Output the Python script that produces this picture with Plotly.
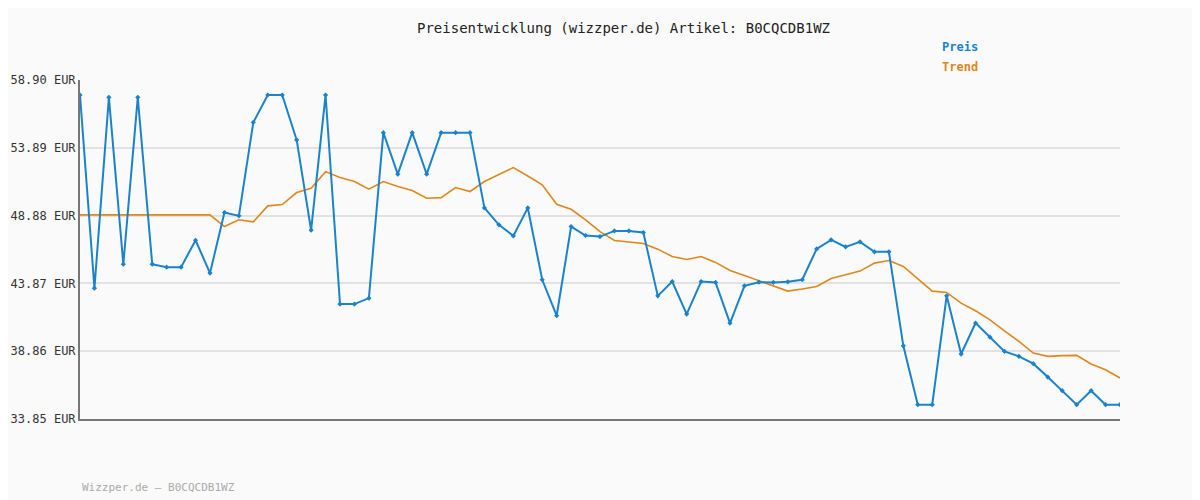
import plotly.graph_objects as go

idx = list(range(73))
preis = [57.79,43.52,57.62,45.29,57.62,45.29,45.07,45.07,47.06,44.63,
         49.11,48.86,55.77,57.79,57.79,54.47,47.80,57.79,42.34,42.34,
         42.78,55.01,51.94,55.01,51.94,55.01,55.01,55.01,49.45,48.20,
         47.38,49.45,44.14,41.48,48.07,47.41,47.33,47.75,47.75,47.63,
         42.95,44.01,41.60,44.01,43.94,40.94,43.69,43.96,43.94,43.99,
         44.14,46.42,47.09,46.57,46.94,46.20,46.20,39.26,34.91,34.91,
         42.95,38.65,40.94,39.90,38.85,38.48,37.94,36.95,35.94,34.91,
         35.94,34.91,34.91]
trend = [48.93]*10 + [48.07,48.57,48.42,49.60,49.70,50.58,50.90,52.13,51.69,51.40,
         50.83,51.40,51.03,50.73,50.16,50.21,50.95,50.66,51.40,51.89,
         52.43,51.81,51.15,49.72,49.35,48.57,47.70,47.04,46.92,46.82,
         46.40,45.86,45.64,45.86,45.42,44.83,44.46,44.06,43.69,43.30,
         43.45,43.64,44.23,44.48,44.78,45.37,45.56,45.12,44.21,43.30,
         43.20,42.41,41.85,41.18,40.37,39.58,38.72,38.48,38.53,38.55,
         37.91,37.49,36.88]
yticks = [33.85,38.86,43.87,48.88,53.89,58.90]
blue = "#1b82cc"; orange = "#e0871c"
font = "DejaVu Sans Mono"

W, H, L, R, T, B = 1200, 500, 72, 88, 72, 89
OFF = 8

fig = go.Figure()
fig.add_trace(go.Scatter(x=idx, y=trend, mode="lines", line=dict(color=orange, width=1.6), name="Trend"))
fig.add_trace(go.Scatter(x=idx, y=preis, mode="lines+markers", line=dict(color=blue, width=2),
                         marker=dict(symbol="diamond", size=4, color=blue), name="Preis"))

def px(x, y):
    x -= OFF; y -= OFF
    return (x - L) / (W - L - R), (H - B - y) / (H - T - B)

ann = []
for text, x, y, col, size, anc in [("Preisentwicklung (wizzper.de) Artikel: B0CQCDB1WZ", 623, 28, "#222", 14, "center"),
                                   ("<b>Preis</b>", 940, 47, blue, 12, "left"),
                                   ("<b>Trend</b>", 940, 67, orange, 12, "left"),
                                   ("Wizzper.de – B0CQCDB1WZ", 80, 487, "#aaa", 11, "left")]:
    xp, yp = px(x, y)
    ann.append(dict(text=text, x=xp, y=yp, xref="paper", yref="paper", xanchor=anc, yanchor="middle",
                    showarrow=False, font=dict(color=col, size=size, family=font)))

fig.update_layout(
    width=W, height=H, margin=dict(l=L, r=R, t=T, b=B, autoexpand=False),
    paper_bgcolor="#fafafa", plot_bgcolor="#fafafa", showlegend=False,
    font=dict(family=font, size=12, color="#333"),
    xaxis=dict(range=[0, 72], showgrid=False, showticklabels=False, zeroline=False,
               showline=True, linecolor="#777", linewidth=2, ticks="", automargin=False),
    yaxis=dict(range=[33.85, 58.90], tickvals=yticks, ticktext=[f"{v:.2f} EUR" for v in yticks],
               showgrid=True, gridcolor="#e2e2e2", gridwidth=2, zeroline=False, automargin=False,
               showline=True, linecolor="#777", linewidth=2, ticks="", ticklen=0,
               tickfont=dict(size=12, color="#333")),
    annotations=ann,
)
fig.write_html("out.html", config={"displayModeBar": False})
